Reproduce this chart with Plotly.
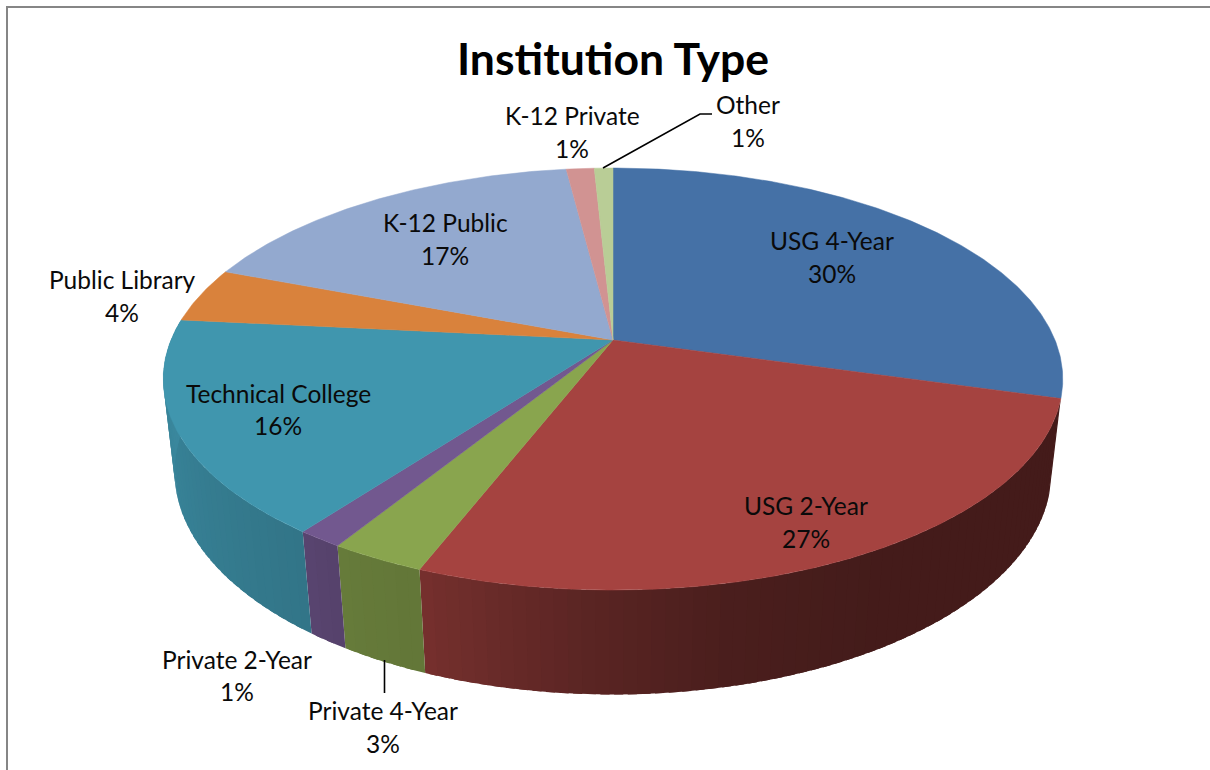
import math
import plotly.graph_objects as go

# ---- data ----
categories = ["USG 4-Year", "USG 2-Year", "Private 4-Year", "Private 2-Year",
              "Technical College", "Public Library", "K-12 Public", "K-12 Private", "Other"]
values = [29.4, 26.5, 2.9, 1.4, 16.4, 4.2, 17.2, 1.2, 0.8]
percent_labels = ["30%", "27%", "3%", "1%", "16%", "4%", "17%", "1%", "1%"]
title_text = "Institution Type"

# ---- style ----
colors = ["#4571a6", "#a54340", "#89a54e", "#72588f", "#4096ae",
          "#d9823c", "#93a9cf", "#d19392", "#b9cd96"]
FONT = "Lato, Carlito, Calibri, sans-serif"
W, H = 1210, 770

# ---- projection of the tilted disc ----
CX, CY = 613.0, 340.0
A, B, K, M, D = 442.0, 203.8, 0.185, 0.025, 94.0


def project(t_deg, z=0.0):
    t = math.radians(t_deg)
    u, v = math.sin(t), -math.cos(t)
    den = 1 - K * v + M * z
    return CX + A * u / den, CY + (B * v + D * z) / den


SHADE_STOPS = [(0, .41), (150, .41), (168, .45), (183, .55), (192, .63), (202, .72),
               (210, .74), (217, .78), (240, .84), (265, .90), (360, .90)]


def shade(t):
    for (a, sa), (b, sb) in zip(SHADE_STOPS, SHADE_STOPS[1:]):
        if a <= t <= b:
            return sa + (sb - sa) * (t - a) / (b - a)
    return .9


def scaled(hex_color, f):
    r, g, b = (int(hex_color[i:i + 2], 16) for i in (1, 3, 5))
    return f"rgb({r * f:.0f},{g * f:.0f},{b * f:.0f})"


total = sum(values)
bounds = [0.0]
for val in values:
    bounds.append(bounds[-1] + val / total * 360)

fig = go.Figure()

# side walls: overlapping shaded bands, later bands painted over earlier ones
for i, col in enumerate(colors):
    t0, t1 = bounds[i], bounds[i + 1]
    if t0 < 90 or t0 > 270:
        continue
    steps = max(1, int(round((t1 - t0) / 1.5)))
    for s in range(steps):
        a = t0 + (t1 - t0) * s / steps
        b = t0 + (t1 - t0) * (s + 1) / steps
        e = min(b + 1.0, t1)
        pts = [project(a), project(e), project(e, 1), project(a, 1), project(a)]
        c = scaled(col, shade((a + b) / 2))
        fig.add_trace(go.Scatter(x=[p[0] for p in pts], y=[p[1] for p in pts], mode="lines",
                                 fill="toself", fillcolor=c, line=dict(color=c, width=0),
                                 hoverinfo="skip", showlegend=False))

# top faces
for i, col in enumerate(colors):
    t0, t1 = bounds[i], bounds[i + 1]
    n = max(4, int((t1 - t0) * 2))
    pts = [(CX, CY)] + [project(t0 + (t1 - t0) * j / n) for j in range(n + 1)] + [(CX, CY)]
    fig.add_trace(go.Scatter(x=[p[0] for p in pts], y=[p[1] for p in pts], mode="lines",
                             fill="toself", fillcolor=col, line=dict(color=col, width=0.5),
                             name=categories[i], hoverinfo="name", showlegend=False))

# leader lines
leaders = [([603, 700, 712], [168, 114, 114]), ([384.5, 384.5], [660, 693])]
for lx, ly in leaders:
    fig.add_trace(go.Scatter(x=lx, y=ly, mode="lines", line=dict(color="black", width=1.6),
                             hoverinfo="skip", showlegend=False))

# label layout: centre x, name y, percent y
label_layout = {
    "USG 4-Year": (832, 240, 273),
    "USG 2-Year": (806, 505, 538),
    "Private 4-Year": (383, 710, 743),
    "Private 2-Year": (237, 659, 691),
    "Technical College": (278, 393, 425),
    "Public Library": (122, 279, 312),
    "K-12 Public": (445, 222, 255),
    "K-12 Private": (572, 115, 148),
    "Other": (748, 104, 137),
}
annotations = [dict(x=612.5, y=57.5, text=f"<b>{title_text}</b>", showarrow=False, xanchor="center",
                    yanchor="middle", font=dict(family=FONT, size=44.5, color="black"))]
for name, pct in zip(categories, percent_labels):
    lx, y1, y2 = label_layout[name]
    for txt, yy in ((name, y1), (pct, y2)):
        annotations.append(dict(x=lx, y=yy, text=txt, showarrow=False, xanchor="center",
                                yanchor="middle", font=dict(family=FONT, size=24.5, color="#0a0a0a")))

# chart frame
shapes = [dict(type="line", x0=7, x1=7, y0=7, y1=H, line=dict(color="#868686", width=2)),
          dict(type="line", x0=6, x1=W, y0=7, y1=7, line=dict(color="#868686", width=2))]

fig.update_layout(
    width=W, height=H, margin=dict(l=0, r=0, t=0, b=0),
    paper_bgcolor="white", plot_bgcolor="white", showlegend=False,
    xaxis=dict(range=[0, W], visible=False, fixedrange=True),
    yaxis=dict(range=[H, 0], visible=False, fixedrange=True),
    annotations=annotations, shapes=shapes,
)
fig.write_html("out.html", config={"displayModeBar": False},
               post_script="document.body.style.margin='0';document.body.style.overflow='hidden';")
